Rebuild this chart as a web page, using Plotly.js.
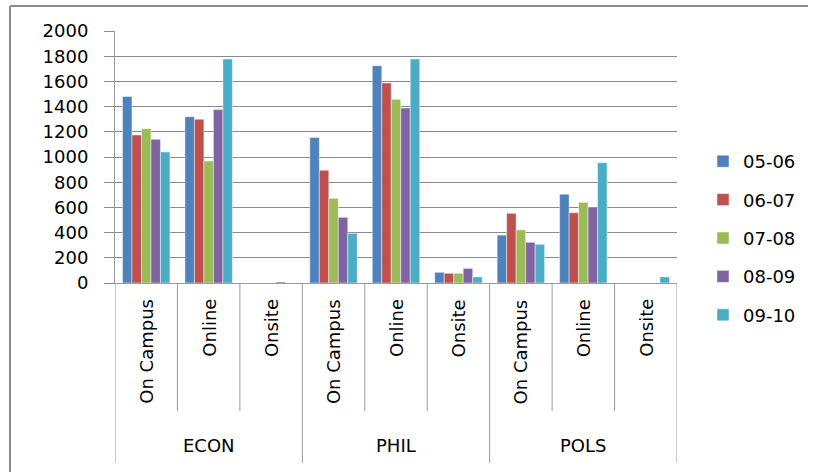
<!DOCTYPE html>
<html>
<head>
<meta charset="utf-8">
<script src="https://cdn.plot.ly/plotly-3.0.1.min.js"></script>
<style>html,body{margin:0;padding:0;background:#fff;}#chart{width:813px;height:472px;}</style>
</head>
<body>
<div id="chart"></div>
<script>
// ---- data ----
const groups = ['ECON', 'PHIL', 'POLS'];
const modes = ['On Campus', 'Online', 'Onsite'];
const seriesNames = ['05-06', '06-07', '07-08', '08-09', '09-10'];
const colors = ['#4F81BD', '#C0504D', '#9BBB59', '#8064A2', '#4BACC6'];
// values per category: ECON(On Campus, Online, Onsite), PHIL(...), POLS(...)
const s0506 = [1480, 1320, 0, 1155, 1725, 85, 380, 705, 0];
const s0607 = [1175, 1300, 0, 895, 1587, 77, 553, 558, 0];
const s0708 = [1225, 968, 0, 672, 1458, 77, 421, 640, 0];
const s0809 = [1140, 1376, 8, 521, 1389, 116, 323, 603, 0];
const s0910 = [1040, 1778, 0, 394, 1778, 48, 307, 955, 48];
const yTicks = [0, 200, 400, 600, 800, 1000, 1200, 1400, 1600, 1800, 2000];

const seriesValues = [s0506, s0607, s0708, s0809, s0910];
const cats = [];
groups.forEach(g => modes.forEach(m => cats.push(g + ' | ' + m)));

const fontFam = 'DejaVu Sans, sans-serif';
const fs = 18;
const traces = seriesNames.map((n, i) => ({
  type: 'bar',
  name: n,
  x: cats,
  y: seriesValues[i],
  legendgroup: 'g' + i,
  marker: {color: colors[i], line: {color: 'rgba(255,255,255,0.45)', width: 1}},
  hoverinfo: 'y+name'
}));

// geometry helpers (paper coords)
const L = 115, R = 677, T = 31, B = 283;
const px = v => (v - L) / (R - L);
const py = v => (B - v) / (B - T);

const shapes = [];
const annotations = [];
const lineCol = '#9a9a9a';
for (let i = 0; i <= cats.length; i++) {
  const isGroup = (i % modes.length === 0);
  shapes.push({type: 'line', xref: 'x', yref: 'paper', x0: i - 0.5, x1: i - 0.5,
    y0: 0, y1: isGroup ? py(463) : py(411), line: {color: lineCol, width: 1}});
}
cats.forEach((c, i) => {
  annotations.push({xref: 'x', yref: 'paper', x: i, y: py(297), text: modes[i % modes.length],
    textangle: -90, showarrow: false, xanchor: 'center', yanchor: 'top',
    font: {family: fontFam, size: fs, color: '#000'}});
});
groups.forEach((g, gi) => {
  annotations.push({xref: 'x', yref: 'paper', x: gi * modes.length + 1, y: py(445), text: g,
    showarrow: false, xanchor: 'center', yanchor: 'middle',
    font: {family: fontFam, size: fs, color: '#000'}});
});
// outer chart frame (top and left visible)
shapes.push({type: 'line', xref: 'paper', yref: 'paper', x0: px(10), x1: px(808), y0: py(6), y1: py(6),
  line: {color: '#8c8c8c', width: 2}});
shapes.push({type: 'line', xref: 'paper', yref: 'paper', x0: px(10), x1: px(10), y0: py(6), y1: py(480),
  line: {color: '#8c8c8c', width: 2}});

const layout = {
  width: 813, height: 472,
  margin: {l: L, r: 813 - R, t: T, b: 472 - B, pad: 0},
  paper_bgcolor: '#fff', plot_bgcolor: '#fff',
  barmode: 'group', bargap: 0.24, bargroupgap: 0,
  showlegend: true,
  font: {family: fontFam, size: fs, color: '#000'},
  xaxis: {type: 'category', categoryorder: 'array', categoryarray: cats, range: [-0.5, cats.length - 0.5],
    showticklabels: false, ticks: '', showgrid: false, zeroline: false,
    showline: true, linecolor: lineCol, linewidth: 1, fixedrange: true},
  yaxis: {range: [0, 2000], tickvals: yTicks, ticktext: yTicks.map(String), showgrid: true,
    gridcolor: '#8a8a8a', gridwidth: 1, zeroline: false, showline: true, linecolor: lineCol, linewidth: 1,
    ticks: 'outside', ticklen: 10, tickcolor: '#8a8a8a', tickwidth: 1, ticklabelstandoff: 12,
    tickfont: {family: fontFam, size: fs, color: '#000'}, fixedrange: true},
  legend: {x: px(703), xanchor: 'left', y: py(238), yanchor: 'middle', tracegroupgap: 12,
    font: {family: fontFam, size: fs, color: '#000'}, bgcolor: 'rgba(0,0,0,0)', traceorder: 'grouped'},
  shapes: shapes,
  annotations: annotations
};

Plotly.newPlot('chart', traces, layout, {displayModeBar: false, staticPlot: true});
</script>
</body>
</html>
